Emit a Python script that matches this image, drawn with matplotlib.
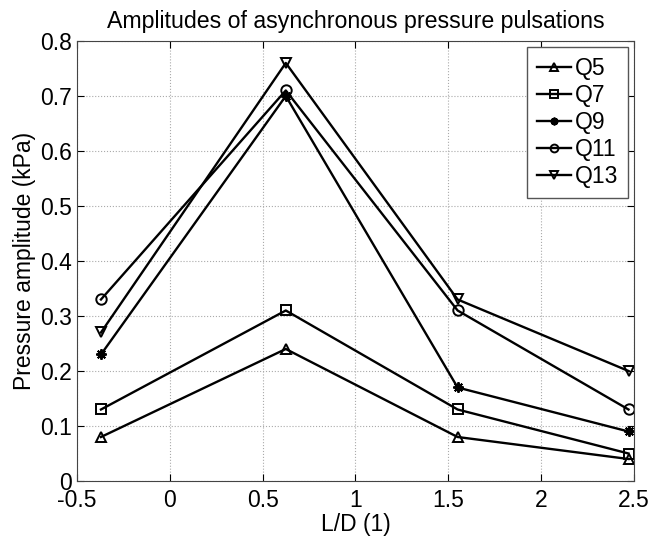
import numpy as np
import matplotlib.pyplot as plt

plt.rcParams['font.family'] = ['Liberation Sans', 'DejaVu Sans']

# L/D positions of the measuring points
ld = [-0.37, 0.625, 1.55, 2.47]

q5 = [0.08, 0.24, 0.08, 0.04]
q7 = [0.13, 0.31, 0.13, 0.05]
q9 = [0.23, 0.70, 0.17, 0.09]
q11 = [0.33, 0.71, 0.31, 0.13]
q13 = [0.27, 0.76, 0.33, 0.20]

series = [('Q5', q5, '^'), ('Q7', q7, 's'), ('Q9', q9, (8, 2, 0)),
          ('Q11', q11, 'o'), ('Q13', q13, 'v')]

fig = plt.figure(figsize=(6.51, 5.39), dpi=100)
ax = fig.add_axes([0.118, 0.1076, 0.856, 0.8164])

for name, vals, mk in series:
    ax.plot(ld, vals, color='k', lw=1.7, marker=mk, ms=7.5,
            mfc='none', mec='k', mew=1.4, label=name)

ax.set_xlim(-0.5, 2.5)
ax.set_ylim(0, 0.8)
ax.set_xticks(np.arange(-0.5, 2.51, 0.5))
ax.set_xticklabels(['-0.5', '0', '0.5', '1', '1.5', '2', '2.5'])
ax.set_yticks(np.arange(0, 0.81, 0.1))
ax.set_yticklabels(['0', '0.1', '0.2', '0.3', '0.4', '0.5', '0.6', '0.7', '0.8'])
ax.tick_params(direction='in', length=5, labelsize=16.5, top=True, right=True)
ax.tick_params(axis='x', pad=5.5)
ax.tick_params(axis='y', pad=3.5)
ax.grid(True, linestyle=':', color='#aaaaaa', lw=0.8)
for sp in ax.spines.values():
    sp.set_color('#444444')

ax.set_title('Amplitudes of asynchronous pressure pulsations', fontsize=16.7, pad=9)
ax.set_xlabel('L/D (1)', fontsize=16.5, labelpad=1)
ax.set_ylabel('Pressure amplitude (kPa)', fontsize=16.5, labelpad=3)

leg = ax.legend(loc='upper right', fontsize=16.5, fancybox=False, framealpha=1,
                edgecolor='#555555', handlelength=1.45, handletextpad=0.17,
                borderaxespad=0.26, labelspacing=0.17, borderpad=0.45,
                markerscale=0.75)
leg.get_frame().set_linewidth(1.0)

fig.savefig('out.png', dpi=100)
